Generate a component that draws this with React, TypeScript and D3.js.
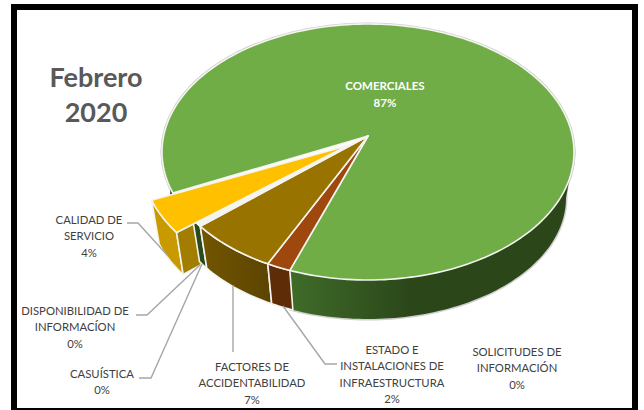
import React from "react";
import * as d3 from "d3";

const categories = ["ESTADO E INSTALACIONES", "FACTORES", "CASUÍSTICA", "DISPONIBILIDAD", "CALIDAD", "SOLICITUDES", "COMERCIALES"];
const values = [1.9, 7.1, 0.25, 0.25, 4.49, 0.05, 86.51];
const labelLines = [
  ["ESTADO E", "INSTALACIONES DE", "INFRAESTRUCTURA"],
  ["FACTORES DE", "ACCIDENTABILIDAD"],
  ["CASUÍSTICA"],
  ["DISPONIBILIDAD DE", "INFORMACÍON"],
  ["CALIDAD DE", "SERVICIO"],
  ["SOLICITUDES DE", "INFORMACIÓN"],
  ["COMERCIALES"],
];
const titleLines = ["Febrero", "2020"];

const W = 644, H = 410;
const FONT = "Lato, 'Open Sans', sans-serif";
const rad = (d: number) => (d * Math.PI) / 180;
const top = { cx: 368, cy: 152, rx: 206, ry: 128 };
const bot = { cx: 368, cy: 198, rx: 198, ry: 121 };
const apexTop: [number, number] = [368, 136];
const apexBot: [number, number] = [368, 175];
const EXPLODE_X = 0.108;
const EXPLODE_Y = 0.17;

type Pt = [number, number];
const rim = (e: typeof top, t: number): Pt => [e.cx + e.rx * Math.sin(t), e.cy - e.ry * Math.cos(t)];
const line = d3.line<Pt>();
const arcPts = (e: typeof top, a: number, b: number): Pt[] => {
  const n = Math.max(2, Math.ceil(Math.abs(b - a) / rad(1.5)));
  return d3.range(n + 1).map((i) => rim(e, a + ((b - a) * i) / n));
};
const shift = (ps: Pt[], o: Pt): Pt[] => ps.map((p) => [p[0] + o[0], p[1] + o[1]]);
const closed = (ps: Pt[]) => line(ps) + "Z";

const arcs = d3.pie<number>().sort(null).startAngle(rad(202.3)).endAngle(rad(562.3))(values);
const idx = (name: string) => categories.indexOf(name);

function wedge(i: number, o: Pt = [0, 0], startPad = 0) {
  const a = arcs[i];
  return closed(shift([apexTop, ...arcPts(top, a.startAngle - startPad, a.endAngle)], o));
}
function side(a0: number, a1: number, o: Pt = [0, 0]) {
  return closed(shift([...arcPts(top, a0, a1), ...arcPts(bot, a1, a0)], o));
}

const colors = ["#9e480e", "#997300", "#f4f4f0", "#2a4a1e", "#ffc000", "#264478", "#70ad47"];
const edge = { stroke: "#f4f4f0", strokeWidth: 1.6, strokeLinejoin: "round" as const };
const leaderPaths: Pt[][] = [
  [[127, 223], [138, 223], [168, 256]],
  [[136, 315], [147, 315], [200, 265]],
  [[139, 378], [151, 378], [202, 264]],
  [[233, 352], [233, 285]],
  [[337, 364], [325, 364], [283, 306]],
];
const labelLayout: Record<string, { x: number; y: number }> = {
  "ESTADO E INSTALACIONES": { x: 392, y: 354 },
  FACTORES: { x: 252, y: 371 },
  CASUÍSTICA: { x: 102, y: 378 },
  DISPONIBILIDAD: { x: 75, y: 315 },
  CALIDAD: { x: 89, y: 224 },
  SOLICITUDES: { x: 517, y: 356 },
};

export default function App() {
  const cal = arcs[idx("CALIDAD")];
  const com = arcs[idx("COMERCIALES")];
  const est = arcs[idx("ESTADO E INSTALACIONES")];
  const fac = arcs[idx("FACTORES")];
  const cas = arcs[idx("CASUÍSTICA")];
  const dis = arcs[idx("DISPONIBILIDAD")];
  const mid = (cal.startAngle + cal.endAngle) / 2;
  const off: Pt = [Math.sin(mid) * top.rx * EXPLODE_X, -Math.cos(mid) * top.ry * EXPLODE_Y];
  const yTopStart = rim(top, cal.startAngle);
  const yBotStart = rim(bot, cal.startAngle);
  const cut = closed(shift([yTopStart, yBotStart, apexBot, apexTop], off));
  const tipDir = rim(top, dis.endAngle);
  const tip = d3.interpolateArray(apexTop as number[], tipDir as number[]);
  const pct = d3.format(".0f");
  return (
    <svg width={W} height={H} style={{ position: "fixed", left: 0, top: 0, background: "#fff" }} fontFamily={FONT}>
      <defs>
        <linearGradient id="gGreen" gradientUnits="userSpaceOnUse" x1={290} x2={410} y1={0} y2={0}>
          <stop offset="0" stopColor="#3f6c29" />
          <stop offset="1" stopColor="#2b471a" />
        </linearGradient>
        <linearGradient id="gFac" gradientUnits="userSpaceOnUse" x1={198} x2={268} y1={0} y2={0}>
          <stop offset="0" stopColor="#735600" />
          <stop offset="1" stopColor="#5c4500" />
        </linearGradient>
      </defs>
      <rect x={14} y={7} width={621} height={404} fill="#fff" stroke="#000" strokeWidth={6} />

      {/* outer halo */}
      <ellipse cx={top.cx} cy={top.cy} rx={top.rx + 0.8} ry={top.ry + 0.8} fill="none" stroke="#cfcfcf" strokeWidth={1.6} />
      <path d={closed(arcPts(bot, rad(88), rad(203)).concat(arcPts(top, rad(203), rad(88))))} fill="none" stroke="#cfcfcf" strokeWidth={3} />

      {/* sides */}
      <path d={side(rad(90), est.startAngle)} fill="url(#gGreen)" />
      <path d={side(com.startAngle, rad(275))} fill="#2b471a" />
      <path d={side(cal.startAngle, cal.endAngle, off)} fill="#c99a00" {...edge} />
      <path d={cut} fill="#a27e00" {...edge} />
      <path d={side(cas.startAngle, dis.endAngle + rad(2))} fill={colors[3]} {...edge} />
      <path d={side(fac.startAngle, fac.endAngle)} fill="url(#gFac)" {...edge} />
      <path d={side(est.startAngle, est.endAngle)} fill="#5f2c08" {...edge} />

      {/* tops */}
      <path d={wedge(idx("COMERCIALES"), [0, 0], rad(1.2))} fill={colors[6]} {...edge} />
      <path d={wedge(idx("ESTADO E INSTALACIONES"))} fill={colors[0]} {...edge} />
      <path d={wedge(idx("FACTORES"))} fill={colors[1]} {...edge} />
      <path d={wedge(idx("CASUÍSTICA"))} fill={colors[2]} {...edge} />
      <path d={wedge(idx("DISPONIBILIDAD"))} fill={colors[2]} {...edge} />
      <path d={wedge(idx("CALIDAD"), off)} fill={colors[4]} {...edge} />
      <path d={line([tip(0.07) as Pt, tip(0.095) as Pt])!} stroke="#3c5f3a" strokeWidth={1.6} fill="none" />

      {leaderPaths.map((p, i) => (
        <path key={i} d={line(p)!} fill="none" stroke="#a6a6a6" strokeWidth={1.4} />
      ))}

      {titleLines.map((t, i) => (
        <text key={t} x={96} y={87 + i * 35} textAnchor="middle" fontSize={27} fontWeight={700} fill="#595959">{t}</text>
      ))}

      {categories.map((c, i) => {
        const l = labelLayout[c];
        if (!l) return null;
        const lines = [...labelLines[i], `${pct(values[i])}%`];
        return (
          <text key={c} textAnchor="middle" fontSize={11.3} fill="#404040">
            {lines.map((s, k) => (
              <tspan key={k} x={l.x} y={l.y + k * 16.3}>{s}</tspan>
            ))}
          </text>
        );
      })}
      <text textAnchor="middle" fontSize={11.5} fontWeight={700} fill="#fff">
        <tspan x={385} y={90}>{labelLines[6][0]}</tspan>
        <tspan x={385} y={107}>{`${pct(values[6])}%`}</tspan>
      </text>
    </svg>
  );
}
